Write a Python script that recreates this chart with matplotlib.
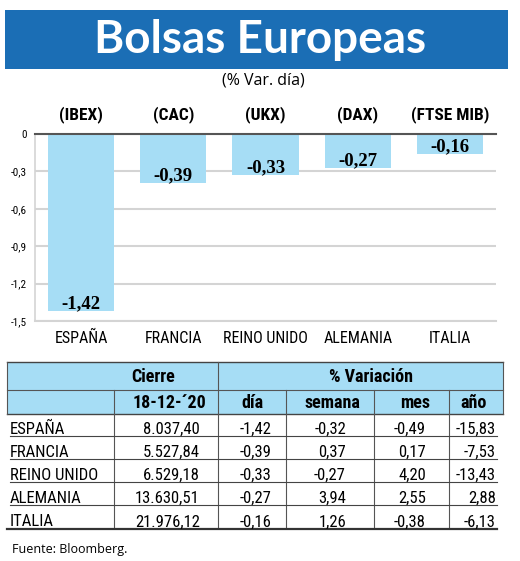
import matplotlib
matplotlib.use("Agg")
import matplotlib.pyplot as plt
from matplotlib import font_manager

# ---------------- data ----------------
indices = ["(IBEX)", "(CAC)", "(UKX)", "(DAX)", "(FTSE MIB)"]
countries = ["ESPAÑA", "FRANCIA", "REINO UNIDO", "ALEMANIA", "ITALIA"]
dia = [-1.42, -0.39, -0.33, -0.27, -0.16]
cierre = [8037.40, 5527.84, 6529.18, 13630.51, 21976.12]
semana = [-0.32, 0.37, -0.27, 3.94, 1.26]
mes = [-0.49, 0.17, 4.20, 2.55, -0.38]
anio = [-15.83, -7.53, -13.43, 2.88, -6.13]
yticks = [0, -0.3, -0.6, -0.9, -1.2, -1.5]

# ---------------- fonts ----------------
installed = {f.name for f in font_manager.fontManager.ttflist}
def pick(*names):
    for n in names:
        if n in installed:
            return n
    return "DejaVu Sans"

COND = pick("Liberation Sans Narrow", "Roboto Condensed", "Open Sans Condensed", "Liberation Sans")
TITLE = pick("Lato", "Open Sans", "Noto Sans")
SERIF = pick("Liberation Serif", "DejaVu Serif")
HUM = pick("Open Sans", "Lato", "Noto Sans")

def es(v, nd=2, thousands=False):
    s = f"{v:,.{nd}f}" if thousands else f"{v:.{nd}f}"
    return s.replace(",", "X").replace(".", ",").replace("X", ".")

BLUE = "#1b6eb5"
LIGHT = "#a6ddf5"

W, H = 520, 561
fig = plt.figure(figsize=(W / 100, H / 100), dpi=100)
fig.patch.set_facecolor("white")

# overlay in pixel coordinates
ov = fig.add_axes([0, 0, 1, 1], zorder=0)
ov.set_xlim(0, W)
ov.set_ylim(H, 0)
ov.axis("off")

# banner
ov.add_patch(plt.Rectangle((5, 10), 503, 59, color=BLUE, lw=0))
ov.text(260, 40, "Bolsas Europeas", color="white", fontsize=33, fontweight="bold",
        family=TITLE, ha="center", va="center")
ov.text(263, 80, "(% Var. día)", fontsize=11.5, family=HUM, ha="center", va="center")

# ---------------- bar chart ----------------
x0, x1, ytop, ybot = 35, 496, 134, 321
ax = fig.add_axes([x0 / W, (H - ybot) / H, (x1 - x0) / W, (ybot - ytop) / H], zorder=2)
ax.patch.set_alpha(0)
xs = list(range(len(dia)))
ax.bar(xs, dia, width=0.72, color=LIGHT, zorder=2)
ax.set_xlim(-0.5, 4.5)
ax.set_ylim(-1.5, 0)
ax.set_yticks(yticks)
ax.set_yticklabels(["0" if t == 0 else es(t, 1) for t in yticks], family=COND, fontsize=8)
ax.yaxis.grid(True, color="#d4d4d4", lw=1.5, zorder=1)
ax.set_axisbelow(True)
ax.set_xticks(xs)
ax.set_xticklabels(countries, family=COND, fontsize=11.5)
ax.tick_params(axis="both", length=0)
ax.tick_params(axis="y", pad=6)
ax.tick_params(axis="x", pad=7)
ax.spines["right"].set_visible(False)
ax.spines["top"].set_color("#555555")
ax.spines["top"].set_linewidth(1.5)
ax.spines["left"].set_color("#d4d4d4")
ax.spines["left"].set_linewidth(1.2)
ax.spines["bottom"].set_color("#d4d4d4")
ax.spines["bottom"].set_linewidth(1.5)

for i, v in enumerate(dia):
    ax.annotate(es(v), (i, v), xytext=(0, 2), textcoords="offset points",
                ha="center", va="baseline", fontsize=13.5, fontweight="bold", family=SERIF)
    ax.text(i, 1.105, indices[i], transform=ax.get_xaxis_transform(), ha="center",
            va="center", fontsize=12.5, fontweight="bold", family=COND)

# ---------------- table ----------------
L, R = 7, 503
t0, t1, t2 = 362, 390, 414
ov.add_patch(plt.Rectangle((L, t0), R - L, t2 - t0, color=LIGHT, lw=0))
ov.plot([L, R], [t0, t0], color="#444444", lw=1.0)
ov.plot([L, R], [t1, t1], color="#555555", lw=0.8)
ov.plot([L, R], [t2, t2], color="#444444", lw=1.0)
ov.plot([L, L], [t0, t2], color="#555555", lw=0.8)
ov.plot([R, R], [t0, t2], color="#555555", lw=0.8)

seps = [436, 459, 482, 505, 529]
bottom_v = 527
ov.plot([114, 114], [t1, bottom_v], color="#555555", lw=0.8)
ov.plot([218, 218], [t0, bottom_v], color="#555555", lw=0.8)
for xv in [286, 374, 449]:
    ov.plot([xv, xv], [t1, bottom_v], color="#555555", lw=0.8)

hfs = 13
ov.text(153, (t0 + t1) / 2 + 1, "Cierre", family=COND, fontweight="bold", fontsize=hfs, ha="center", va="center")
ov.text(371, (t0 + t1) / 2 + 1, "% Variación", family=COND, fontweight="bold", fontsize=hfs, ha="center", va="center")
ov.text(169, (t1 + t2) / 2 + 1, "18-12-´20", family=COND, fontweight="bold", fontsize=hfs, ha="center", va="center")
for xc, lab in zip([252, 332, 415, 474], ["día", "semana", "mes", "año"]):
    ov.text(xc, (t1 + t2) / 2 + 1, lab, family=COND, fontweight="bold", fontsize=hfs, ha="center", va="center")

dfs = 12
for r in range(len(countries)):
    yb = seps[r] - 2.5
    ov.text(10, yb, countries[r], family=COND, fontsize=dfs, ha="left", va="baseline")
    ov.text(200, yb, es(cierre[r], 2, True), family=COND, fontsize=dfs, ha="right", va="baseline")
    ov.text(271, yb, es(dia[r]), family=COND, fontsize=dfs, ha="right", va="baseline")
    ov.text(346, yb, es(semana[r]), family=COND, fontsize=dfs, ha="right", va="baseline")
    ov.text(426, yb, es(mes[r]), family=COND, fontsize=dfs, ha="right", va="baseline")
    ov.text(496, yb, es(anio[r]), family=COND, fontsize=dfs, ha="right", va="baseline")
    if r < len(countries) - 1:
        ov.plot([10, 497], [seps[r], seps[r]], color="#444444", lw=0.8)
ov.plot([L, 497], [seps[-1], seps[-1]], color="#333333", lw=1.6)

ov.text(12, 550, "Fuente: Bloomberg.", family=HUM, fontsize=9, ha="left", va="center")

fig.savefig("out.png", dpi=100, facecolor="white")
